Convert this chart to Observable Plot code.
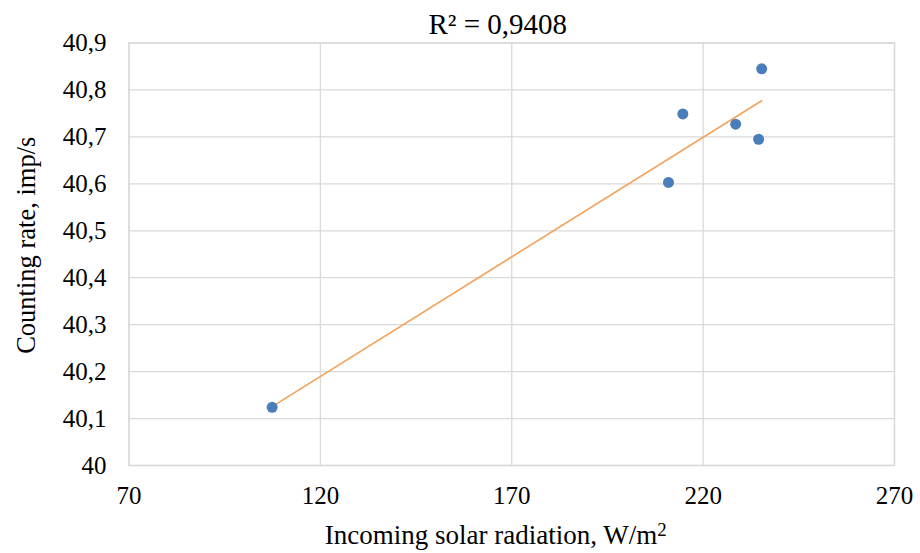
<!DOCTYPE html>
<html>
<head>
<meta charset="utf-8">
<script src="https://cdn.jsdelivr.net/npm/d3@7"></script>
<script src="https://cdn.jsdelivr.net/npm/@observablehq/plot@0.6"></script>
<style>
  html, body { margin: 0; padding: 0; background: #fff; }
  #chart svg { display: block; }
</style>
</head>
<body>
<div id="chart"></div>
<script>
// Data
const radiation = [107.4, 210.95, 214.7, 228.5, 234.5, 235.3];
const countRate = [40.124, 40.603, 40.749, 40.727, 40.695, 40.845];

const xTicks = [70, 120, 170, 220, 270];
const yTicks = [40, 40.1, 40.2, 40.3, 40.4, 40.5, 40.6, 40.7, 40.8, 40.9];
const yTickLabels = ["40", "40,1", "40,2", "40,3", "40,4", "40,5", "40,6", "40,7", "40,8", "40,9"];

const titleText = "R² = 0,9408";
const xLabelMain = "Incoming solar radiation, W/m";
const xLabelSup = "2";
const yLabel = "Counting rate, imp/s";

const points = radiation.map((x, i) => ({x, y: countRate[i]}));

const font = "'Liberation Serif', 'Times New Roman', serif";
const gridColor = "#d9d9d9";

const chart = Plot.plot({
  width: 920,
  height: 553,
  marginLeft: 128.5,
  marginRight: 26,
  marginTop: 42.5,
  marginBottom: 88,
  style: {fontFamily: font, fontSize: "25px", color: "#000", background: "#fff"},
  x: {domain: [70, 270]},
  y: {domain: [40, 40.9]},
  marks: [
    Plot.gridX(xTicks, {stroke: gridColor, strokeOpacity: 1, strokeWidth: 1.3}),
    Plot.gridY(yTicks, {stroke: gridColor, strokeOpacity: 1, strokeWidth: 1.3}),
    Plot.frame({stroke: gridColor, strokeWidth: 1.3}),
    Plot.axisX({ticks: xTicks, tickSize: 0, tickPadding: 21, label: null, fontSize: 25}),
    Plot.axisY({ticks: yTicks, tickSize: 0, tickPadding: 22.5, label: null, fontSize: 25,
      tickFormat: d => yTickLabels[yTicks.findIndex(t => Math.abs(t - d) < 1e-9)]}),
    Plot.linearRegressionY(points, {x: "x", y: "y", stroke: "#f4a25a", strokeWidth: 1.6, ci: 0}),
    Plot.dot(points, {x: "x", y: "y", r: 5.5, fill: "#4a7ebb", stroke: "none"}),
    Plot.text([titleText], {frameAnchor: "top", lineAnchor: "middle", textAnchor: "middle", dy: -18.5, dx: -14, fontSize: 29, fill: "#000"}),
    Plot.text([xLabelMain], {frameAnchor: "bottom", lineAnchor: "middle", textAnchor: "middle", dy: 69.4, dx: -16, fontSize: 27, fill: "#000"}),
    Plot.text([yLabel], {frameAnchor: "left", lineAnchor: "middle", textAnchor: "middle", dx: -102.5, dy: -9, rotate: -90, fontSize: 26.5, fill: "#000"})
  ]
});
// add the superscript to the x axis label
d3.select(chart).selectAll("text").filter(function() { return this.textContent === xLabelMain; })
  .each(function() {
    d3.select(this).append("tspan").attr("dy", "-0.4em").attr("font-size", "0.7em").text(xLabelSup);
  });
document.getElementById("chart").appendChild(chart);
</script>
</body>
</html>
